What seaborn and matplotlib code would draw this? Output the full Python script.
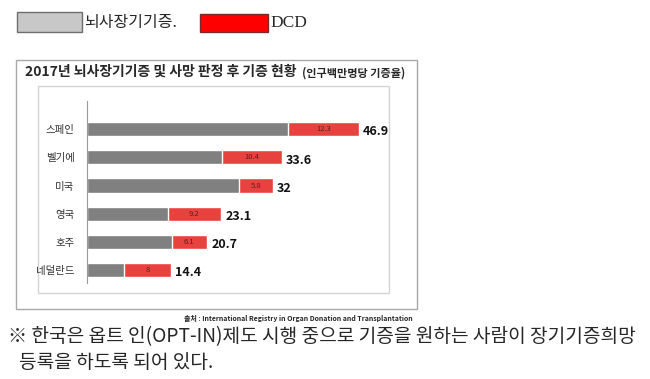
import matplotlib
matplotlib.use('Agg')
import matplotlib.pyplot as plt
from matplotlib.patches import Rectangle
import seaborn as sns

countries = ['스페인', '벨기에', '미국', '영국', '호주', '네덜란드']
dbd = [34.6, 23.2, 26.2, 13.9, 14.6, 6.4]
dcd = [12.3, 10.4, 5.8, 9.2, 6.1, 8]
total = [46.9, 33.6, 32, 23.1, 20.7, 14.4]

W, H = 650, 379
sns.set_theme(style='white')
plt.rcParams['font.family'] = ['Noto Sans CJK KR', 'DejaVu Sans']

fig = plt.figure(figsize=(6.5, 3.79), dpi=100)
fig.patch.set_facecolor('white')


def fx(px):
    return px / W


def fy(py):
    return 1 - py / H


def box(x0, y0, x1, y1, **kw):
    fig.add_artist(Rectangle((fx(x0), fy(y1)), fx(x1 - x0), (y1 - y0) / H,
                             transform=fig.transFigure, zorder=0, **kw))


# legend on top
box(17, 12, 82, 32, facecolor='#c8c8c8', edgecolor='#6e6e6e', lw=1)
fig.text(fx(84), fy(23), '뇌사장기기증.', fontsize=11.5, va='center', ha='left')
box(200, 14, 268, 32, facecolor='#ff0000', edgecolor='#7a2a2a', lw=1)
fig.text(fx(270), fy(23), 'DCD', fontsize=12.5, va='center', ha='left',
         family='Liberation Serif')

# outer and inner frames
box(16, 60, 417, 309, facecolor='none', edgecolor='#a8a8a8', lw=1)
box(38, 86, 389, 293, facecolor='none', edgecolor='#d4d4d4', lw=1)

fig.text(fx(25), fy(72), '2017년 뇌사장기기증 및 사망 판정 후 기증 현황',
         fontsize=10, fontweight='bold', va='center', ha='left')
fig.text(fx(302), fy(73), '(인구백만명당 기증율)', fontsize=8,
         fontweight='bold', va='center', ha='left')

ax = fig.add_axes([fx(87), fy(283), fx(388 - 87), (283 - 101) / H])
sns.barplot(x=total, y=countries, color='#e8423e', width=0.5,
            saturation=1, orient='h', ax=ax)
sns.barplot(x=dbd, y=countries, color='#808080', width=0.5,
            saturation=1, orient='h', ax=ax)

for i in range(len(countries)):
    ax.text(dbd[i] + dcd[i] / 2, i, f'{dcd[i]:g}', fontsize=5.5,
            color='#5a2020', ha='center', va='center')
    ax.annotate(f'{total[i]:g}', (total[i], i), xytext=(3, -2),
                textcoords='offset points', fontsize=9, fontweight='bold',
                ha='left', va='center', color='#111111')

ax.set_xlim(0, 51.9)
ax.set_ylim(5.46, -1.0)
ax.set_xlabel('')
ax.set_ylabel('')
ax.set_xticks([])
ax.tick_params(axis='y', length=0, pad=9, labelsize=7.5, colors='#333333')
for s in ['top', 'right', 'bottom']:
    ax.spines[s].set_visible(False)
ax.spines['left'].set_color('#9a9a9a')
ax.spines['left'].set_linewidth(0.8)
ax.set_facecolor('none')

fig.text(fx(413), fy(319),
         '출처 : International Registry in Organ Donation and Transplantation',
         fontsize=5, fontweight='bold', ha='right', va='center')

fig.text(fx(8), fy(337),
         '※ 한국은 옵트 인(OPT-IN)제도 시행 중으로 기증을 원하는 사람이 장기기증희망',
         fontsize=13.8, ha='left', va='center')
fig.text(fx(19), fy(362), '등록을 하도록 되어 있다.', fontsize=13.8,
         ha='left', va='center')

fig.savefig('out.png', dpi=100, facecolor='white')
